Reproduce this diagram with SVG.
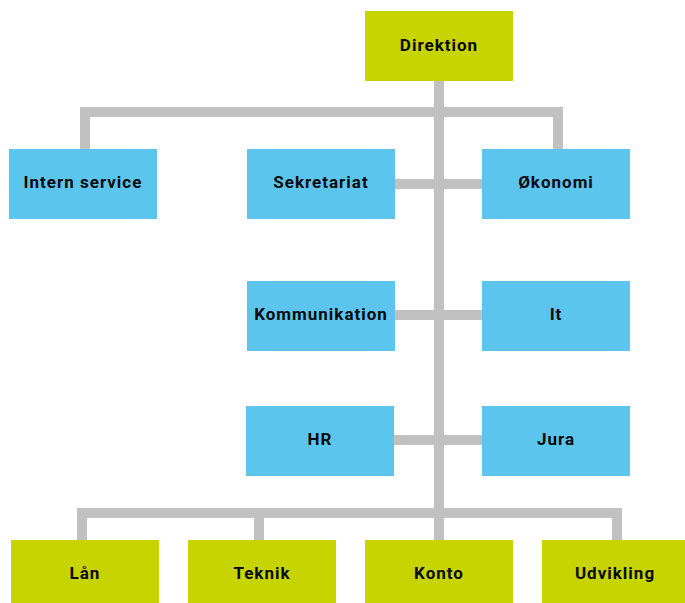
<svg xmlns="http://www.w3.org/2000/svg" width="685" height="603" viewBox="0 0 685 603">
<style>
.c{fill:none;stroke:#c0c1c0;stroke-width:10;stroke-linejoin:miter;stroke-linecap:butt}
.g{fill:#c8d400}
.b{fill:#5bc5ed}
text{font-family:"Roboto","Liberation Sans",sans-serif;font-weight:bold;font-size:17px;letter-spacing:1px;fill:#0a0a0a;text-anchor:middle;dominant-baseline:central}
</style>
<rect width="685" height="603" fill="#fff"/>
<g id="connectors">
<path class="c" d="M439,80 V540"/>
<path class="c" d="M85,149 V112 H558 V149"/>
<path class="c" d="M395,184 H482"/>
<path class="c" d="M395,315 H482"/>
<path class="c" d="M394,440 H482"/>
<path class="c" d="M82,540 V513 H617 V540"/>
<path class="c" d="M259,513 V540"/>
</g>
<g id="direktion"><rect class="g" x="365" y="11" width="148" height="70"/><text x="439" y="45">Direktion</text></g>
<g id="intern-service"><rect class="b" x="9" y="149" width="148" height="70"/><text x="83" y="182">Intern service</text></g>
<g id="sekretariat"><rect class="b" x="247" y="149" width="148" height="70"/><text x="321" y="182">Sekretariat</text></g>
<g id="okonomi"><rect class="b" x="482" y="149" width="148" height="70"/><text x="556" y="182">Økonomi</text></g>
<g id="kommunikation"><rect class="b" x="247" y="281" width="148" height="70"/><text x="321" y="314">Kommunikation</text></g>
<g id="it"><rect class="b" x="482" y="281" width="148" height="70"/><text x="556" y="314">It</text></g>
<g id="hr"><rect class="b" x="246" y="406" width="148" height="70"/><text x="320" y="439">HR</text></g>
<g id="jura"><rect class="b" x="482" y="406" width="148" height="70"/><text x="556" y="439">Jura</text></g>
<g id="laan"><rect class="g" x="11" y="540" width="148" height="63"/><text x="85" y="573">Lån</text></g>
<g id="teknik"><rect class="g" x="188" y="540" width="148" height="63"/><text x="262" y="573">Teknik</text></g>
<g id="konto"><rect class="g" x="365" y="540" width="148" height="63"/><text x="439" y="573">Konto</text></g>
<g id="udvikling"><rect class="g" x="542" y="540" width="143" height="63"/><text x="615" y="573">Udvikling</text></g>
</svg>
